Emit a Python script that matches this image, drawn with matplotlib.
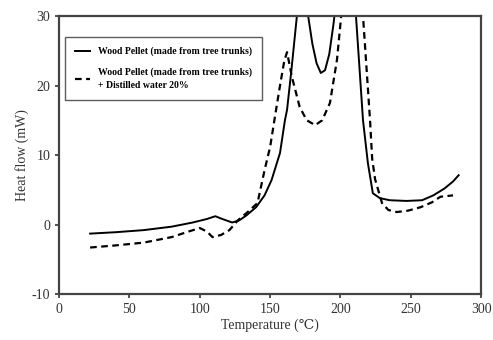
import matplotlib
matplotlib.use("Agg")
import matplotlib.pyplot as plt

plt.rcParams['font.family'] = ['Liberation Serif', 'DejaVu Serif']
plt.rcParams['axes.unicode_minus'] = False

# values (curves above 30 are clipped by the axis)
temp_dry = [22, 40, 60, 80, 95, 105, 111, 116, 123, 128, 133, 140, 146, 151, 157,
            160.5, 162, 165, 169, 172, 177, 180, 183, 186, 189, 192, 195, 198,
            206, 211, 214, 216, 219.5, 223, 228, 235, 247, 258, 266, 274, 280, 284]
heat_dry = [-1.3, -1.1, -0.8, -0.3, 0.3, 0.8, 1.2, 0.8, 0.3, 0.6, 1.3, 2.5, 4.2, 6.4, 10.3,
            15, 16.5, 22, 30, 36, 30, 26, 23.2, 21.8, 22.2, 24.5, 28.8, 34,
            38, 30, 21, 15, 8.8, 4.5, 3.8, 3.5, 3.4, 3.5, 4.2, 5.2, 6.2, 7.1]

temp_wet = [22, 40, 60, 80, 92, 100, 105, 109, 115, 121, 127, 134, 141, 146, 150,
            153, 157, 160, 162, 165.5, 171, 176, 182, 187, 192.5, 197.5, 200.5,
            203, 210, 216, 219, 221, 222.5, 224.6, 229.5, 234, 240, 248, 257,
            265, 271, 280]
heat_wet = [-3.3, -3.0, -2.6, -1.8, -1.0, -0.5, -1.0, -1.8, -1.5, -0.8, 0.6, 1.8, 3.1, 7.8, 11.2,
            15, 20, 23.5, 24.8, 21.2, 16.9, 15, 14.3, 15, 17.5, 23.7, 30,
            36, 38, 30, 21, 15, 9.5, 6.5, 3.1, 2.1, 1.8, 2.0, 2.5,
            3.2, 4.0, 4.2]

label_dry = 'Wood Pellet (made from tree trunks)'
label_wet = 'Wood Pellet (made from tree trunks)\n+ Distilled water 20%'

fig = plt.figure(figsize=(4.93, 3.4), dpi=100)
ax = fig.add_axes([0.12, 0.135, 0.856, 0.818])

ax.plot(temp_dry, heat_dry, color='black', lw=1.4, label=label_dry)
ax.plot(temp_wet, heat_wet, color='black', lw=1.6, ls=(0, (3, 2)), label=label_wet)

ax.set_xlim(0, 300)
ax.set_ylim(-10, 30)
ax.set_xticks(range(0, 301, 50))
ax.set_yticks(range(-10, 31, 10))
ax.tick_params(direction='out', length=3, width=1.2, labelsize=10, colors='#333333')
for s in ax.spines.values():
    s.set_linewidth(1.6)
    s.set_color('#444444')

ax.set_xlabel('Temperature (℃)', fontsize=10, color='#333333', labelpad=2)
ax.set_ylabel('Heat flow (mW)', fontsize=10, color='#333333', labelpad=2)

leg = ax.legend(loc='upper left', bbox_to_anchor=(0.014, 0.924),
                prop={'weight': 'bold', 'size': 7}, frameon=True, fancybox=False,
                handlelength=1.6, handletextpad=0.8, borderpad=1.0, labelspacing=1.1,
                borderaxespad=0)
leg.get_texts()[1].set_linespacing(1.6)
leg.get_frame().set_edgecolor('#333333')
leg.get_frame().set_linewidth(1.0)

fig.savefig('out.png', dpi=100)
